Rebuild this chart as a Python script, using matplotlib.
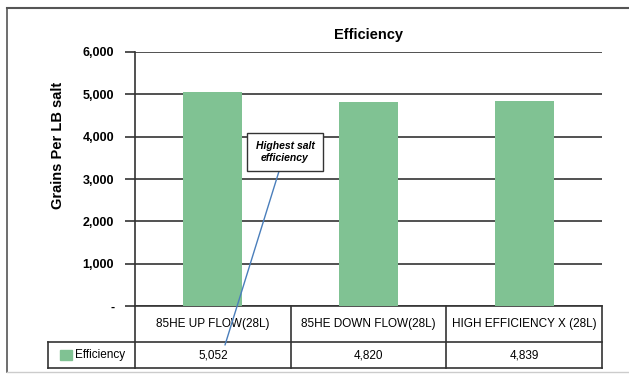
import matplotlib.pyplot as plt
from matplotlib.lines import Line2D
from matplotlib.patches import Rectangle

plt.rcParams['font.family'] = ['Liberation Sans', 'DejaVu Sans']

categories = ['85HE UP FLOW(28L)', '85HE DOWN FLOW(28L)', 'HIGH EFFICIENCY X (28L)']
efficiency = [5052, 4820, 4839]
value_labels = ['5,052', '4,820', '4,839']
yticks = [0, 1000, 2000, 3000, 4000, 5000, 6000]
ytick_labels = ['-', '1,000', '2,000', '3,000', '4,000', '5,000', '6,000']

bar_color = '#80c293'
W, H = 629, 379

fig = plt.figure(figsize=(W / 100, H / 100), dpi=100)

# outer frame of the chart object
fig.add_artist(Line2D([7 / W, 7 / W], [1 - 8 / H, 1 - 372 / H], color='#555555', lw=1.2))
fig.add_artist(Line2D([7 / W, 1], [1 - 8 / H, 1 - 8 / H], color='#555555', lw=1.5))
fig.add_artist(Line2D([7 / W, 1], [1 - 372 / H, 1 - 372 / H], color='#cccccc', lw=1.0))

ax = fig.add_axes([135 / W, 1 - 306 / H, (602 - 135) / W, (306 - 52) / H])

x = list(range(len(categories)))
ax.bar(x, efficiency, width=0.38, color=bar_color, zorder=3)
ax.set_xlim(-0.5, len(categories) - 0.5)
ax.set_ylim(0, 6000)
ax.set_yticks(yticks)
ax.set_yticklabels(ytick_labels, fontsize=9, fontweight='bold')
ax.set_xticks([])
ax.grid(axis='y', color='#333333', lw=1.2, zorder=1)
for s in ['top', 'right', 'bottom']:
    ax.spines[s].set_visible(False)
ax.spines['left'].set_color('#333333')
ax.spines['left'].set_linewidth(1.2)
ax.tick_params(axis='y', length=7, width=1.2, color='#333333', pad=8)

ax.set_title('Efficiency', fontsize=10.5, fontweight='bold', pad=9)
ax.set_ylabel('Grains Per LB salt', fontsize=10.5, fontweight='bold')
ax.yaxis.set_label_coords((65 - 135) / 467, (306 - 145) / 254)

# data table under the axis
tr = ax.transAxes
h1 = -36 / 254
h2 = -62 / 254
xl = (48 - 135) / 467
lk = dict(transform=tr, color='#333333', lw=1.2, clip_on=False)
ax.add_line(Line2D([0, 1], [0, 0], **lk))
ax.add_line(Line2D([xl, 1], [h1, h1], **lk))
ax.add_line(Line2D([xl, 1], [h2, h2], **lk))
ax.add_line(Line2D([0, 0], [0, h2], **lk))
ax.add_line(Line2D([xl, xl], [h1, h2], **lk))
for i in range(1, len(categories) + 1):
    ax.add_line(Line2D([i / 3, i / 3], [0, h2], **lk))
for i, (c, v) in enumerate(zip(categories, value_labels)):
    ax.text((i + 0.5) / 3, h1 / 2, c, transform=tr, ha='center', va='center', fontsize=8.5)
    ax.text((i + 0.5) / 3, (h1 + h2) / 2, v, transform=tr, ha='center', va='center', fontsize=8.5)
ax.add_patch(Rectangle((xl + 12 / 467, (h1 + h2) / 2 - 5 / 254), 12 / 467, 10 / 254,
                       transform=tr, color=bar_color, clip_on=False))
ax.text(xl + 27 / 467, (h1 + h2) / 2, 'Efficiency', transform=tr, ha='left',
        va='center', fontsize=8.5)

# callout
ax.annotate('Highest salt\nefficiency', xy=((225 - 135) / 467, (306 - 345) / 254),
            xycoords='axes fraction',
            xytext=((285 - 135) / 467, (306 - 152) / 254), textcoords='axes fraction',
            ha='center', va='center', fontsize=7.5, fontweight='bold', style='italic',
            bbox=dict(boxstyle='square,pad=0.8', fc='white', ec='#333333', lw=1.0),
            arrowprops=dict(arrowstyle='-', color='#4a7ebb', lw=1.0,
                            shrinkA=0, shrinkB=0),
            annotation_clip=False, zorder=5)

fig.savefig('out.png', dpi=100)
